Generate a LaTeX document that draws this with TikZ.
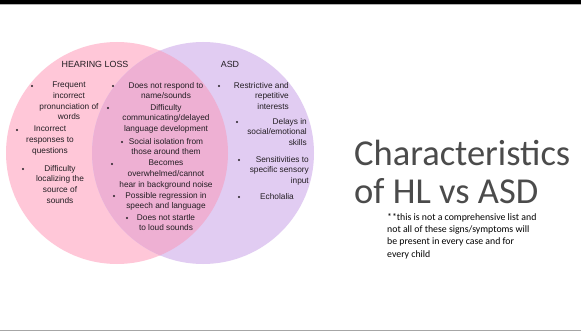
\documentclass[tikz,border=0pt]{standalone}
\usepackage{fontspec}
\setmainfont{Liberation Sans}
\newfontfamily\calibri{Carlito}
\definecolor{hlpink}{RGB}{255,199,216}
\definecolor{asdlilac}{RGB}{225,204,242}
\definecolor{bothmix}{RGB}{238,176,211}
\definecolor{inktext}{RGB}{35,30,35}
\definecolor{titlegray}{RGB}{75,75,75}
\begin{document}
\begin{tikzpicture}[x=1pt,y=-1pt]
		\tikzstyle{dot}=[fill=inktext,shape=circle,minimum size=2.2pt,inner sep=0pt]
		\tikzstyle{item}=[inktext,inner sep=0pt,font=\fontsize{8.3}{10.6}\selectfont]
		\tikzstyle{heading}=[inktext,inner sep=0pt,font=\fontsize{8.9}{10}\selectfont]
		\useasboundingbox (0,0) rectangle (581,331);
		\fill[white] (0,0) rectangle (581,331);

		% frame lines
		\fill[black] (0,0) rectangle (581,4);
		\draw[gray!60,line width=1pt] (0,4.8) -- (581,4.8);
		\draw[gray!70,line width=1pt] (0,330) -- (581,330);

		% the two circles
		\fill[hlpink] (117,153) circle (111);
		\fill[asdlilac] (203,153) circle (111);
		\begin{scope}
			\clip (117,153) circle (111);
			\fill[bothmix] (203,153) circle (111);
		\end{scope}

		\node[heading] (hl) at (95,64) {HEARING LOSS};
		\node[heading] (asd) at (230,64) {ASD};

		% hearing loss only
		\foreach \name / \bx / \by / \tx / \txt in {
			hla/32/86/69/{Frequent\\incorrect\\pronunciation of\\words},
			hlb/17/130/50/{Incorrect\\responses to\\questions},
			hlc/23/169/60/{Difficulty\\localizing the\\source of\\sounds}} {
			\node[dot] (\name d) at (\bx,\by) {};
			\node[item,align=center,anchor=north] (\name) at (\tx,\by-4) {\txt};
		}

		% both
		\foreach \name / \bx / \by / \txt in {
			bta/113/86/{Does not respond to\\name/sounds},
			btb/108/108/{Difficulty\\communicating/delayed\\language development},
			btc/122/142/{Social isolation from\\those around them},
			btd/112/164/{Becomes\\overwhelmed/cannot\\hear in background noise},
			bte/114/196/{Possible regression in\\speech and language},
			btf/127/218/{Does not startle\\to loud sounds}} {
			\node[dot] (\name d) at (\bx,\by) {};
			\node[item,align=center,anchor=north] (\name) at (166,\by-4) {\txt};
		}

		% asd only
		\foreach \name / \bx / \by / \tx / \txt in {
			asa/219/86/289/{Restrictive and\\repetitive\\interests},
			asb/237/122/307/{Delays in\\social/emotional\\skills},
			asc/239/160/309/{Sensitivities to\\specific sensory\\input}} {
			\node[dot] (\name d) at (\bx,\by) {};
			\node[item,align=right,anchor=north east] (\name) at (\tx,\by-4) {\txt};
		}
		\node[dot] (asdd) at (239,197) {};
		\node[item,anchor=north] (asd) at (277,197-4) {Echolalia};

		% title and note
		\node[titlegray,inner sep=0pt,anchor=west,align=left,font=\calibri\fontsize{36.5}{38.5}\selectfont] (title) at (354,172) {Characteristics\\of HL vs ASD};
		\node[black,inner sep=0pt,anchor=north west,align=left,font=\calibri\fontsize{9.8}{12.4}\selectfont] (note) at (387,213) {**this is not a comprehensive list and\\not all of these signs/symptoms will\\be present in every case and for\\every child};
	\end{tikzpicture}
\end{document}
